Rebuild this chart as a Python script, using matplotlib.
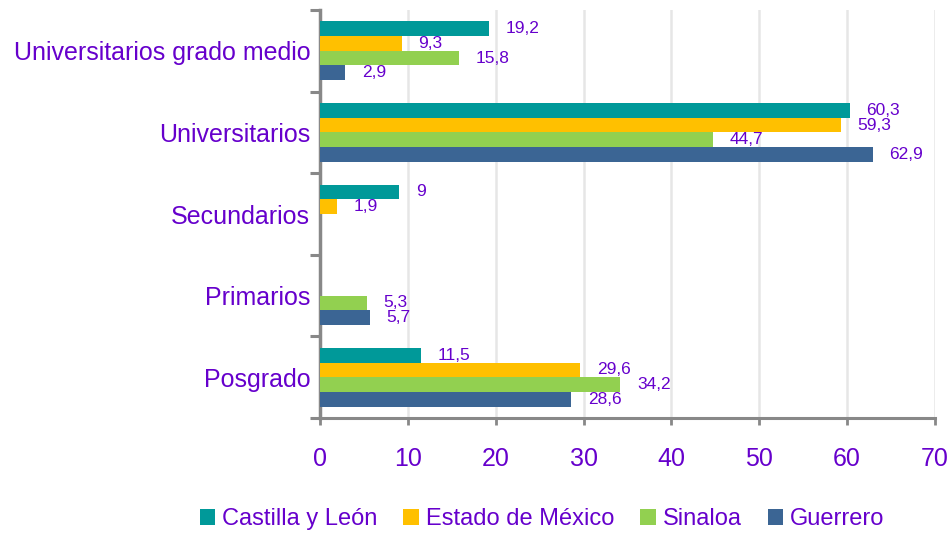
import numpy as np
import matplotlib
matplotlib.use("Agg")
import matplotlib.pyplot as plt
from matplotlib.ticker import FixedLocator

categories = ["Posgrado", "Primarios", "Secundarios", "Universitarios", "Universitarios grado medio"]
series_names = ["Castilla y León", "Estado de México", "Sinaloa", "Guerrero"]
castilla = [11.5, np.nan, 9.0, 60.3, 19.2]
estado = [29.6, np.nan, 1.9, 59.3, 9.3]
sinaloa = [34.2, 5.3, np.nan, 44.7, 15.8]
guerrero = [28.6, 5.7, np.nan, 62.9, 2.9]
x_ticks = [0, 10, 20, 30, 40, 50, 60, 70]

colors = ["#009999", "#FFC000", "#92D050", "#3B6594"]
text_color = "#6600CC"
plt.rcParams["font.family"] = ["Liberation Sans", "DejaVu Sans"]

fig = plt.figure(figsize=(9.49, 5.34), dpi=100)
ax = fig.add_axes([320/949, 1-418/534, (935-320)/949, (418-10)/534])

h = 0.18
offsets = [1.5*h, 0.5*h, -0.5*h, -1.5*h]
y = np.arange(len(categories))
all_series = [castilla, estado, sinaloa, guerrero]
for vals, name, col, off in zip(all_series, series_names, colors, offsets):
    vals_arr = np.array(vals, dtype=float)
    ax.barh(y + off, np.nan_to_num(vals_arr), height=h, color=col, label=name, zorder=3)
    for i, v in enumerate(vals_arr):
        if not np.isnan(v):
            lab = ("%g" % v).replace(".", ",")
            ax.text(v + 1.9, y[i] + off, lab, va="center", ha="left",
                    color=text_color, fontsize=12.5, zorder=2)

ax.set_xlim(0, 70)
ax.set_ylim(-0.5, len(categories) - 0.5)
ax.set_xticks(x_ticks)
ax.set_xticklabels([str(t) for t in x_ticks], color=text_color, fontsize=18)
ax.set_yticks(y)
ax.set_yticklabels(categories, color=text_color, fontsize=18)
ax.tick_params(axis="y", which="major", length=0, pad=7)
ax.yaxis.set_minor_locator(FixedLocator(np.arange(-0.5, len(categories), 1.0)))
ax.tick_params(axis="y", which="minor", length=7, width=2.2, color="#888888", direction="out")
ax.tick_params(axis="x", which="major", length=5, width=2, color="#888888", pad=16)
ax.grid(axis="x", color="#E6E6E6", linewidth=1.8, zorder=0)
for sp in ["top", "right"]:
    ax.spines[sp].set_visible(False)
ax.spines["left"].set_color("#888888")
ax.spines["left"].set_linewidth(2.5)
ax.spines["bottom"].set_color("#888888")
ax.spines["bottom"].set_linewidth(2.2)

leg = fig.legend(loc="center", bbox_to_anchor=(542/949, 1-519/534), ncol=4, frameon=False,
                 fontsize=17, handlelength=0.65, handleheight=0.65, handletextpad=0.3,
                 columnspacing=1.1)
for t in leg.get_texts():
    t.set_color(text_color)

fig.savefig("out.png", dpi=100)
